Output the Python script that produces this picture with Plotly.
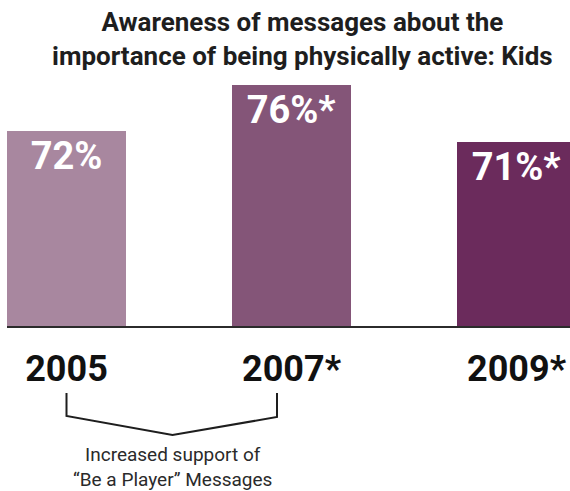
import plotly.graph_objects as go

# ---- data ----
years = ["2005", "2007*", "2009*"]
values = [72, 76, 71]
value_labels = ["72%", "76%*", "71%*"]
bar_colors = ["#a8879f", "#845578", "#6b2b5c"]
title_lines = ["Awareness of messages about the",
               "importance of being physically active: Kids"]
bracket_note = ["Increased support of", "“Be a Player” Messages"]

FONT = "Roboto, Liberation Sans, sans-serif"

W, H = 570, 491
ML, MR, MT, MB = 7, 0, 0, 165
plot_h = H - MT - MB
px_per_unit = 11.5
y_base = 55
y_top = y_base + plot_h / px_per_unit

cat_px = 225.0
first_center_px = 66.5
x_lo = (ML - first_center_px) / cat_px
x_hi = (W - MR - first_center_px) / cat_px

xs = list(range(len(years)))

fig = go.Figure()
fig.add_trace(go.Bar(
    x=xs, y=values,
    marker=dict(color=bar_colors, line=dict(width=0)),
    width=119 / cat_px,
    text=value_labels,
    textposition="inside",
    insidetextanchor="end",
    textangle=0,
    constraintext="none",
    textfont=dict(family=FONT, size=38, color="white", weight="bold"),
    hoverinfo="skip",
))

def py2paper(py):
    return (H - MB - py) / plot_h

# bracket under 2005 .. 2007
bx0 = xs[0]
bx1 = xs[1] - 14.5 / cat_px
bmid = (xs[0] + xs[1]) / 2 - 6.5 / cat_px
fig.add_shape(
    type="path", xref="x", yref="paper",
    path=(f"M {bx0} {py2paper(393)} L {bx0} {py2paper(416)} "
          f"L {bmid} {py2paper(435)} L {bx1} {py2paper(417)} L {bx1} {py2paper(393)}"),
    line=dict(color="#1e1e1e", width=2),
)
fig.add_annotation(
    x=bmid, xref="x", y=py2paper(441), yref="paper",
    text="<br>".join(bracket_note), showarrow=False,
    xanchor="center", yanchor="top", align="center",
    font=dict(family=FONT, size=19, color="#2a2a2a"),
)

# title
fig.add_annotation(
    x=(302 - ML) / (W - ML - MR), xref="paper",
    y=py2paper(5), yref="paper",
    text="<br>".join(title_lines), showarrow=False,
    xanchor="center", yanchor="top", align="center",
    font=dict(family=FONT, size=26, color="#1e1e1e", weight="bold"),
)

fig.update_layout(
    width=W, height=H,
    margin=dict(l=ML, r=MR, t=MT, b=MB, pad=0),
    paper_bgcolor="white", plot_bgcolor="white",
    showlegend=False,
    bargap=0,
    xaxis=dict(
        range=[x_lo, x_hi],
        tickvals=xs, ticktext=years,
        ticks="", showgrid=False, zeroline=False,
        showline=True, linecolor="#2b2b2b", linewidth=2,
        tickfont=dict(family=FONT, size=36, color="#111111", weight="bold"),
        ticklabelstandoff=10,
        fixedrange=True,
    ),
    yaxis=dict(range=[y_base, y_top], visible=False, fixedrange=True),
)

post = "document.body.style.margin='0';"
fig.write_html("out.html", post_script=post, config={"displayModeBar": False})
